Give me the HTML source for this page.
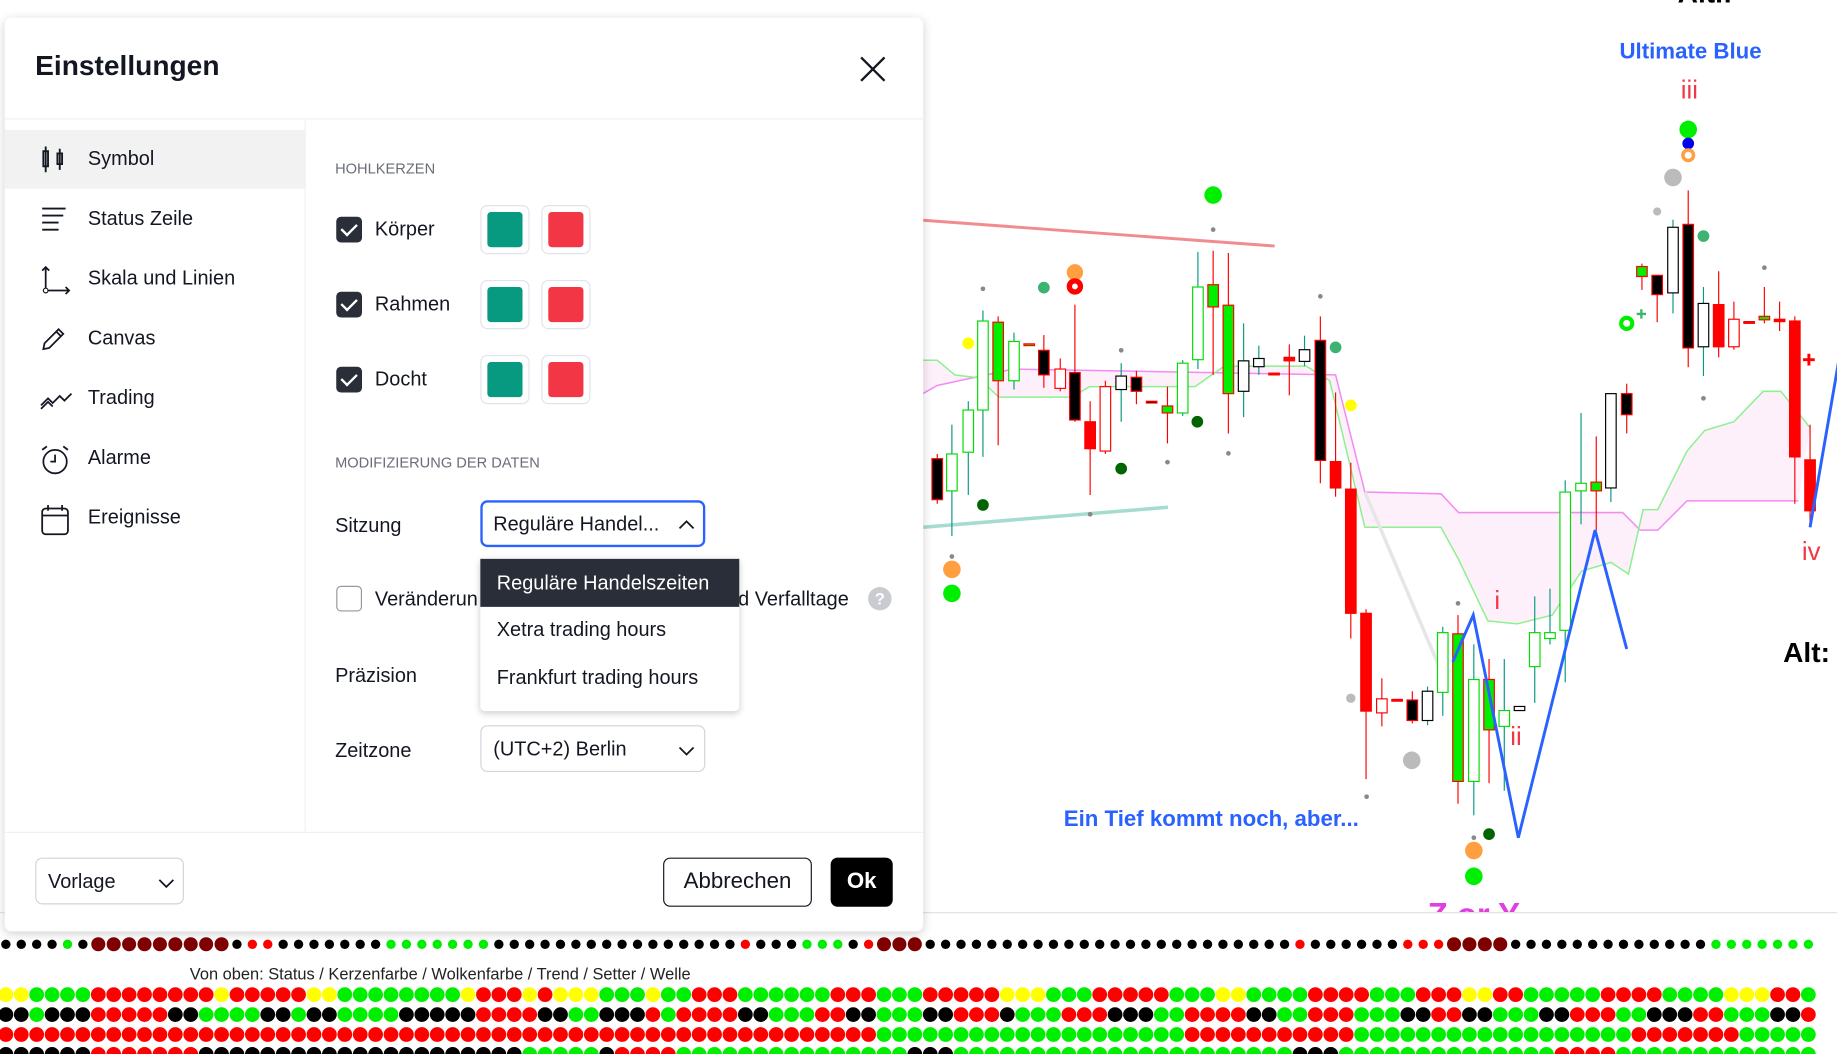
<!DOCTYPE html>
<html><head><meta charset="utf-8">
<style>
html,body{margin:0;padding:0;background:#fff;overflow:hidden;width:1837px;height:1054px}
#wrap{position:absolute;left:0;top:0;width:1568px;height:900px;transform:scale(1.17156);transform-origin:0 0;font-family:"Liberation Sans",sans-serif;color:#131722}
svg{position:absolute;left:0;top:0}
.dlg{position:absolute;left:4px;top:15px;width:784px;height:780px;background:#fff;border-radius:6px;box-shadow:0 2px 8px rgba(0,0,0,.18)}
.a{position:absolute;white-space:nowrap}
.side{position:absolute;left:0;top:88px;width:256px;height:607px;border-right:1px solid #eef0f3}
.item{position:absolute;left:0;width:256px;height:50px;font-size:17px;line-height:50px}
.item span{position:absolute;left:71px}
.item svg{left:30px;top:13px}
.cb{position:absolute;width:22px;height:22px;border-radius:4px;background:#2a2e39}
.cb:after{content:"";position:absolute;left:7px;top:3px;width:6px;height:11px;border:solid #fff;border-width:0 2.5px 2.5px 0;transform:rotate(45deg)}
.sw{position:absolute;width:40px;height:40px;border:1px solid #e0e3eb;border-radius:6px}
.sw i{position:absolute;left:5px;top:5px;width:30px;height:30px;border-radius:3px}
.lab{font-size:17px}
.sec{font-size:12.5px;color:#6a6d78}
.sel{position:absolute;height:40px;border:1px solid #d1d4dc;border-radius:6px;font-size:17px;line-height:40px;box-sizing:border-box;padding-left:10px}
</style></head><body>
<div id="wrap">
<svg id="ch" width="1568" height="900" viewBox="0 0 1568 900"></svg>
<div class="dlg">
 <div class="a" style="left:26px;top:28px;font-size:24px;font-weight:bold;color:#131722">Einstellungen</div>
 <svg width="24" height="24" style="left:729px;top:32px"><path d="M2 2L22 22M22 2L2 22" stroke="#131722" stroke-width="2"/></svg>
 <div style="position:absolute;left:0;top:86px;width:784px;height:1px;background:#eef0f3"></div>
 <div class="side">
  <div class="item" style="top:8px;background:#f2f2f2"><svg width="24" height="24"><path d="M5 1v22M3 5h4v13H3zM17 3v18M15 7h4v9h-4z" stroke="#131722" stroke-width="1.6" fill="none"/></svg><span>Symbol</span></div>
  <div class="item" style="top:59px"><svg width="24" height="24"><path d="M2 3h20M2 9h18M2 15h14M2 21h14" stroke="#131722" stroke-width="1.6"/></svg><span>Status Zeile</span></div>
  <div class="item" style="top:110px"><svg width="28" height="28"><path d="M5 2v20h20M2 5l3-3 3 3M22 19l3 3-3 3" stroke="#131722" stroke-width="1.5" fill="none"/><circle cx="5" cy="22" r="2" fill="#fff" stroke="#131722"/></svg><span>Skala und Linien</span></div>
  <div class="item" style="top:161px"><svg width="24" height="24"><path d="M3 21l1-5L16 4l4 4L8 20zM14 6l4 4" stroke="#131722" stroke-width="1.5" fill="none"/></svg><span>Canvas</span></div>
  <div class="item" style="top:212px"><svg width="30" height="24"><path d="M1 18l6-6 4 4 6-6 4 4 6-6M1 21l6-6 4 4" stroke="#131722" stroke-width="1.5" fill="none"/></svg><span>Trading</span></div>
  <div class="item" style="top:263px"><svg width="28" height="28"><circle cx="13" cy="15" r="10" stroke="#131722" stroke-width="1.5" fill="none"/><path d="M13 9v6h-4M2 5l4-3M24 5l-4-3" stroke="#131722" stroke-width="1.5" fill="none"/></svg><span>Alarme</span></div>
  <div class="item" style="top:314px"><svg width="26" height="28"><rect x="2" y="4" width="22" height="22" rx="3" stroke="#131722" stroke-width="1.5" fill="none"/><path d="M2 10h22M7 1v5M19 1v5" stroke="#131722" stroke-width="1.5"/></svg><span>Ereignisse</span></div>
 </div>
 <div class="a sec" style="left:282px;top:122px">HOHLKERZEN</div>
 <div class="cb" style="left:283px;top:170px"></div><div class="a lab" style="left:316px;top:171px">Körper</div>
 <div class="sw" style="left:406px;top:160px"><i style="background:#089981"></i></div><div class="sw" style="left:458px;top:160px"><i style="background:#f23645"></i></div>
 <div class="cb" style="left:283px;top:234px"></div><div class="a lab" style="left:316px;top:235px">Rahmen</div>
 <div class="sw" style="left:406px;top:224px"><i style="background:#089981"></i></div><div class="sw" style="left:458px;top:224px"><i style="background:#f23645"></i></div>
 <div class="cb" style="left:283px;top:298px"></div><div class="a lab" style="left:316px;top:299px">Docht</div>
 <div class="sw" style="left:406px;top:288px"><i style="background:#089981"></i></div><div class="sw" style="left:458px;top:288px"><i style="background:#f23645"></i></div>
 <div class="a sec" style="left:282px;top:373px">MODIFIZIERUNG DER DATEN</div>
 <div class="a lab" style="left:282px;top:424px">Sitzung</div>
 <div class="sel" style="left:406px;top:412px;width:192px;border:2px solid #2962ff;padding-left:9px;line-height:37px">Reguläre Handel...<svg width="14" height="10" style="left:167px;top:14px"><path d="M1 8l6-6 6 6" stroke="#131722" stroke-width="1.5" fill="none"/></svg></div>
 <div style="position:absolute;left:283px;top:485px;width:20px;height:20px;border:1px solid #9598a1;border-radius:4px"></div>
 <div class="a lab" style="left:316px;top:487px">Veränderun</div>
 <div class="a lab" style="left:626px;top:487px">d Verfalltage</div>
 <div class="a" style="left:737px;top:486px;width:20px;height:20px;border-radius:50%;background:#c9cbd1;color:#fff;font-size:14px;text-align:center;line-height:20px;font-weight:bold">?</div>
 <div class="a lab" style="left:282px;top:552px">Präzision</div>
 <div class="a lab" style="left:282px;top:616px">Zeitzone</div>
 <div class="sel" style="left:406px;top:604px;width:192px">(UTC+2) Berlin<svg width="14" height="10" style="left:168px;top:16px"><path d="M1 2l6 6 6-6" stroke="#131722" stroke-width="1.5" fill="none"/></svg></div>
 <div style="position:absolute;left:406px;top:461px;width:221px;height:131px;background:#fff;border-radius:4px;box-shadow:0 2px 6px rgba(0,0,0,.2)">
  <div class="a" style="left:0;top:1px;width:221px;height:41px;background:#2a2e39;color:#fff;font-size:17px;line-height:41px;text-indent:14px">Reguläre Handelszeiten</div>
  <div class="a lab" style="left:14px;top:52px">Xetra trading hours</div>
  <div class="a lab" style="left:14px;top:93px">Frankfurt trading hours</div>
 </div>
 <div style="position:absolute;left:0;top:695px;width:784px;height:1px;background:#eef0f3"></div>
 <div class="sel" style="left:26px;top:717px;width:127px">Vorlage<svg width="14" height="10" style="left:104px;top:16px"><path d="M1 2l6 6 6-6" stroke="#131722" stroke-width="1.5" fill="none"/></svg></div>
 <div class="a" style="left:562px;top:717px;width:125px;height:40px;border:1px solid #131722;border-radius:6px;font-size:19px;line-height:40px;text-align:center">Abbrechen</div>
 <div class="a" style="left:705px;top:717px;width:53px;height:42px;background:#000;border-radius:6px;color:#fff;font-size:19px;font-weight:bold;line-height:42px;text-align:center">Ok</div>
</div>
<div class="a" style="left:162px;top:823px;font-size:14px;color:#222">Von oben: Status / Kerzenfarbe / Wolkenfarbe / Trend / Setter / Welle</div>
</div>
<script>
var s='',X=function(v){return v/2+785},Y=function(v){return v/2};
function pl(pts,c,w,f){return '<polyline points="'+pts.map(function(p){return X(p[0])+','+Y(p[1])}).join(' ')+'" fill="'+(f||'none')+'" stroke="'+c+'" stroke-width="'+w+'"/>';}
s+='<defs><clipPath id="cp"><rect x="0" y="0" width="1568" height="779"/></clipPath></defs><g clip-path="url(#cp)">';
var up=[[0,675],[30,658],[160,630],[710,640],[760,840],[890,843],[920,875],[1200,875],[1230,905],[1260,905],[1310,855],[1500,855]];
var gr=[[0,615],[30,615],[60,640],[100,645],[135,678],[260,678],[290,660],[470,660],[520,625],[660,625],[700,650],[760,900],[890,900],[920,955],[970,1060],[1020,1065],[1080,1050],[1130,975],[1180,960],[1210,980],[1235,870],[1260,870],[1310,770],[1340,735],[1390,720],[1440,668],[1470,668],[1520,730]];
s+=pl(up.concat(gr.slice().reverse()),'none',0,'#fdf0fb');
s+=pl(up,'#f38cf0',1.3);s+=pl(gr,'#8ef08e',1.3);
s+='<line x1="788" y1="188" x2="1088" y2="210" stroke="#f28b8f" stroke-width="2.5"/>';
s+='<line x1="788" y1="450" x2="997" y2="433" stroke="#a6dcd0" stroke-width="3"/>';
s+='<line x1="1165" y1="420" x2="1228" y2="568" stroke="#e6e6e6" stroke-width="3"/>';
var C=[[30,783,853,775,860,'k'],[55,775,838,725,915,'hg'],[83,700,772,685,845,'hg'],[108,548,700,530,780,'hg'],[134,550,650,540,760,'g'],[161,583,650,568,665,'hg'],[187,587,589,587,589,'g'],[212,598,640,572,662,'k'],[240,630,663,612,668,'hr'],[265,636,717,520,720,'k'],[291,720,766,685,845,'r'],[317,660,770,650,775,'hr'],[344,642,665,620,720,'hk'],[370,644,668,633,690,'k'],[396,685,687,685,687,'k'],[423,693,705,660,757,'g'],[449,620,705,615,710,'hg'],[475,490,614,430,630,'hg'],[501,486,524,428,640,'g'],[527,521,672,432,740,'g'],[553,616,668,552,712,'hk'],[579,612,626,590,640,'hk'],[605,637,640,637,640,'r'],[631,610,616,588,675,'r'],[657,597,617,573,625,'hk'],[684,581,786,540,825,'k'],[710,788,833,670,848,'r'],[736,835,1047,790,1090,'r'],[762,1047,1214,1040,1330,'r'],[789,1193,1217,1158,1240,'hr'],[815,1194,1197,1194,1197,'r'],[841,1195,1230,1180,1235,'k'],[867,1180,1230,1172,1238,'hk'],[893,1080,1182,1070,1222,'hg'],[919,1082,1334,1050,1372,'g'],[946,1160,1334,1100,1392,'hg'],[972,1160,1246,1125,1337,'g'],[998,1213,1240,1125,1350,'hg'],[1024,1206,1213,1206,1213,'hk'],[1050,1080,1138,1018,1200,'hg'],[1076,1080,1090,1005,1100,'hg'],[1102,840,1076,820,1165,'hg'],[1129,825,838,705,895,'hg'],[1155,823,838,745,905,'g'],[1180,672,833,672,857,'hk'],[1207,672,708,655,740,'k'],[1233,455,472,450,495,'g'],[1259,470,503,470,550,'k'],[1286,388,500,375,535,'hk'],[1312,383,594,325,627,'k'],[1338,518,592,490,642,'hk'],[1364,520,592,463,610,'r'],[1390,545,592,515,597,'hr'],[1416,549,551,549,551,'r'],[1442,540,546,490,552,'g'],[1468,545,549,515,565,'r'],[1494,548,780,540,860,'r'],[1520,785,872,725,900,'r']];
C.forEach(function(c){var x=X(c[0]),t=c[5],fill,st,wk;
 if(t=='k'){fill='#000';st='#ff0000';wk='#ff0000'}else if(t=='r'){fill='#ff0000';st='#ff0000';wk='#ff0000'}else if(t=='g'){fill='#00ee00';st='#ff0000';wk='#ff0000'}else if(t=='hg'){fill='#fff';st='#00dd00';wk='#089981'}else if(t=='hr'){fill='#fff';st='#ff0000';wk='#ff0000'}else{fill='#fff';st='#000';wk='#089981'}
 s+='<line x1="'+x+'" y1="'+Y(c[3])+'" x2="'+x+'" y2="'+Y(c[4])+'" stroke="'+wk+'" stroke-width="1"/>';
 s+='<rect x="'+(x-4.5)+'" y="'+Y(c[1])+'" width="9" height="'+Math.max(1.5,Y(c[2])-Y(c[1]))+'" fill="'+fill+'" stroke="'+st+'" stroke-width="1"/>';});
s+=pl([[910,1130],[945,1050],[1022,1430],[1153,905],[1207,1108]],'#2962ff',2.5);
s+=pl([[1520,900],[1570,610]],'#2962ff',2.5);
var D=[[265,465,7,'#ff9f40'],[265,489,7,'#ff0000'],[265,489,2.5,'#fff'],[501,333,7.5,'#00ee00'],[83,586,5,'#ffff00'],[212,491,5,'#3cb371'],[108,862,5,'#006400'],[344,800,5,'#006400'],[474,720,5,'#006400'],[710,593,5,'#3cb371'],[736,692,5,'#ffff00'],[55,972,7.5,'#ff9f40'],[55,1013,7.5,'#00ee00'],[736,1192,4,'#bbb'],[840,1298,7.5,'#bbb'],[972,1424,5,'#006400'],[946,1452,7.5,'#ff9f40'],[946,1496,7.5,'#00ee00'],[1312,221,7.5,'#00ee00'],[1312,245,5,'#0000ee'],[1312,265,6,'#ff9f40'],[1312,265,3,'#fff'],[1286,303,7.5,'#bbb'],[1259,361,3.5,'#bbb'],[1338,403,5,'#3cb371'],[1207,552,6.5,'#00ee00'],[1207,552,3,'#fff']];
[[108,493],[344,598],[501,392],[684,506],[291,878],[423,789],[527,774],[55,950],[919,1030],[763,1360],[946,1430],[1442,457],[1338,680]].forEach(function(p){s+='<circle cx="'+X(p[0])+'" cy="'+Y(p[1])+'" r="2" fill="#888"/>'});
D.forEach(function(d){s+='<circle cx="'+X(d[0])+'" cy="'+Y(d[1])+'" r="'+d[2]+'" fill="'+d[3]+'"/>'});
s+='<path d="M1397 268h8M1401 264v8" stroke="#3cb371" stroke-width="2"/><path d="M1539 307h10M1544 302v10" stroke="#ff0000" stroke-width="2.5"/>';
function T(x,y,t,c,sz,b,a){s+='<text x="'+x+'" y="'+y+'" fill="'+c+'" font-size="'+sz+'" font-weight="'+(b?'bold':'normal')+'" text-anchor="'+(a||'start')+'" font-family="Liberation Sans,sans-serif">'+t+'</text>'}
T(1443,50,'Ultimate Blue','#2962ff',19,1,'middle');T(1442,84,'iii','#f23645',22,0,'middle');
T(1278,520,'i','#f23645',22,0,'middle');T(1294,636,'ii','#f23645',22,0,'middle');T(1546,478,'iv','#f23645',22,0,'middle');
T(1522,565,'Alt:','#000',24,1);T(908,705,'Ein Tief kommt noch, aber...','#2962ff',19,1);
T(1258,790,'Z or Y','#e040e0',28,1,'middle');T(1432,2,'Alt.:','#000',24,1);
s+='</g><line x1="0" y1="779" x2="1568" y2="779" stroke="#e0e3eb" stroke-width="1"/>';
// dot rows
var r1='kkkkgkDDDDDDDDDkrrkkkkkkkgggggggkkkkkkkkkkkkkkkkrkkkgggkrDDDkkkkkkkkkkkkkkkkkkkkkkkkrkkkkkkrrrDDDDkkkkkkkkkkkkkgggggggkkkkk';
var r2='yyggggrrrrrrrryrrrrryyggggggggyrrryryyygggyggrrrggggggrrrgggrrrrryyygggrrrrrgggyyggggrrrrgggrrryyrrgggggrrrrggggyyyrrggyr';
var r3='kkgkkkrrrrrkkggggkkgkkggggkkkkkrrrrkkggkkkrgrrrrkkgggrrkkgggkkrrrkgggrrrkkkggrrrrkkggrrrgggkkrrkkgggkkrrrggkkkrrgggkkrrgk';
var r4='rrrrrrrrrrrrrrrrrrrrrrrrrrrrrrrrrrrrrrrrrrrrrrrrrrrrrrrrrggggggggggggggggggggrrrrrrrrrrrggggggggggggggggggrrrrrrrgggggggrrg';
var r5='kkkkkkrrrrrrrkkkkkkkkkkkkkkkkkkkkkgggggkrrrrgggggggggggggggkkkggggggggggggggggggggggkkkggggggggggggggrrrrgggggggggggggggg';
var col={k:'#000',g:'#00ee00',r:'#ff0000',y:'#ffff00',D:'#800000'};
function row(str,y,r,dx){for(var i=0;i<118;i++){var ch=str[i%str.length];var rr=(ch=='D')?6:r;s+='<circle cx="'+(5+i*13.15)+'" cy="'+y+'" r="'+rr+'" fill="'+col[ch]+'"/>';}}
row(r1,806,4,0);row(r2,849,6.3);row(r3,866,6.3);row(r4,883,6.3);row(r5,900,6.3);
document.getElementById('ch').innerHTML=s;
</script>
</body></html>
